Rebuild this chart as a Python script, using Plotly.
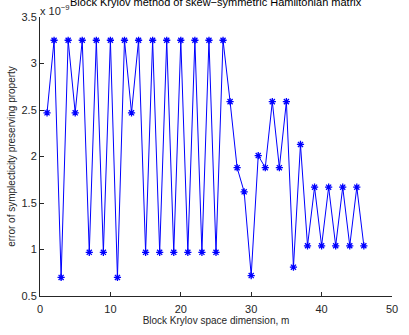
import plotly.graph_objects as go

m = list(range(1, 47))
err = [2.47, 3.25, 0.70, 3.25, 2.47, 3.25, 0.97, 3.25, 0.97, 3.25,
       0.70, 3.25, 2.47, 3.25, 0.97, 3.25, 0.97, 3.25, 0.97, 3.25,
       0.97, 3.25, 0.97, 3.25, 0.97, 3.25, 2.59, 1.88, 1.62, 0.72,
       2.01, 1.88, 2.59, 1.88, 2.59, 0.81, 2.13, 1.04, 1.67, 1.04,
       1.67, 1.04, 1.67, 1.04, 1.67, 1.04]
xticks = [0, 10, 20, 30, 40, 50]
yticks = [0.5, 1, 1.5, 2, 2.5, 3, 3.5]

FONT = "Liberation Sans, Arial, sans-serif"
fig = go.Figure()
fig.add_trace(go.Scatter(
    x=m, y=err, mode="lines+markers",
    line=dict(color="#0000ff", width=1),
    marker=dict(symbol="asterisk-open", size=6, color="#0000ff",
                line=dict(color="#0000ff", width=1.3)),
))
fig.update_layout(
    width=409, height=335,
    margin=dict(l=36, r=11, t=15, b=34),
    paper_bgcolor="white", plot_bgcolor="white",
    showlegend=False,
    font=dict(family=FONT, size=11, color="#262626"),
)
fig.update_xaxes(range=[0, 50], tickvals=xticks, ticktext=[str(v) for v in xticks],
                 ticks="inside", ticklen=4, tickcolor="#262626", ticklabelstandoff=3,
                 showline=True, linecolor="#262626", linewidth=1,
                 showgrid=False, zeroline=False,
                 title=dict(text="Block Krylov space dimension, m", font=dict(size=10), standoff=2))
fig.update_yaxes(range=[0.5, 3.5], tickvals=yticks, ticktext=["0.5", "1", "1.5", "2", "2.5", "3", "3.5"],
                 ticks="inside", ticklen=4, tickcolor="#262626",
                 showline=True, linecolor="#262626", linewidth=1,
                 showgrid=False, zeroline=False,
                 title=dict(text="error of symplecticity preserving property", font=dict(size=10), standoff=4))
fig.add_annotation(text="Block Krylov method of skew−symmetric Hamiltonian matrix",
                   xref="paper", yref="paper", x=0.5, y=1.0, yshift=7,
                   xanchor="center", yanchor="bottom", showarrow=False,
                   font=dict(size=11, color="#000000"))
fig.add_annotation(text="x 10<sup>−9</sup>",
                   xref="paper", yref="paper", x=0.0, y=1.0, yshift=-2, xshift=-2,
                   xanchor="left", yanchor="bottom", showarrow=False,
                   font=dict(size=11, color="#262626"))
fig.write_html("out.html")
